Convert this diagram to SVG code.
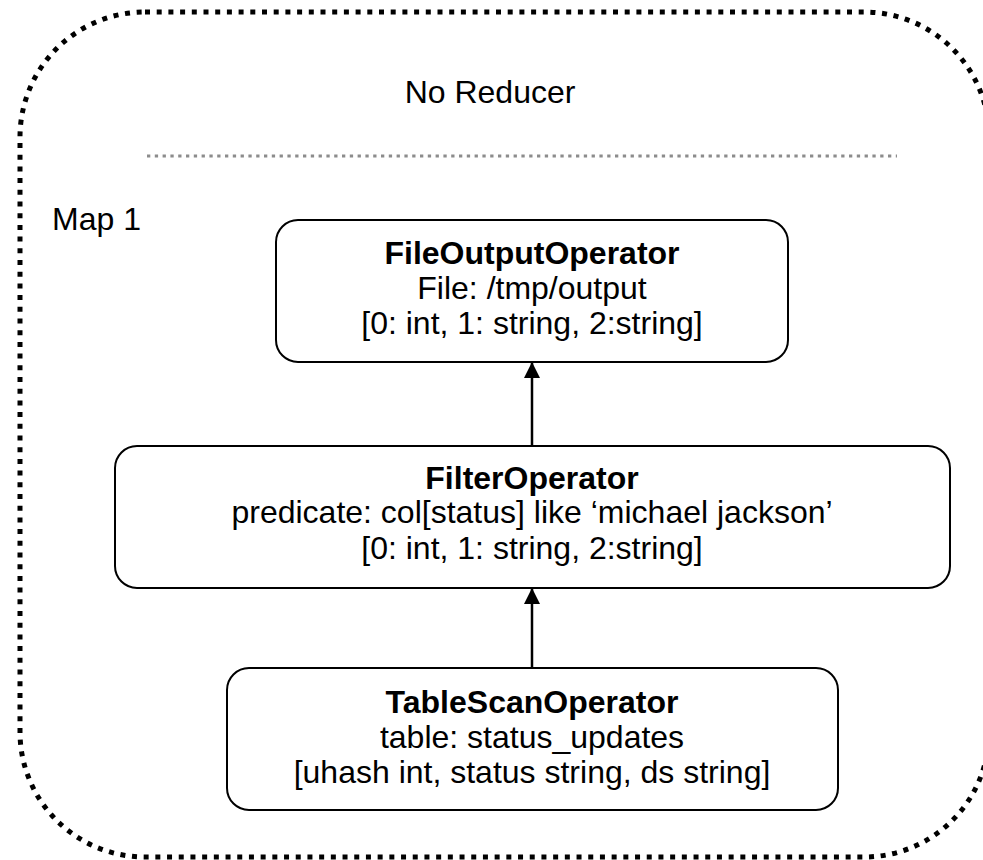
<svg xmlns="http://www.w3.org/2000/svg" width="983" height="860" viewBox="0 0 983 860">
  <defs>
    <style>
      .txt { font-family: "Liberation Sans", Arial, sans-serif; font-size: 32px; fill: #000; }
      .ctr { text-anchor: middle; }
      .b { font-weight: bold; }
      .op { fill: #fff; stroke: #000; stroke-width: 2; }
      .edge { stroke: #000; stroke-width: 2.5; fill: none; marker-end: url(#arrow); }
    </style>
    <marker id="arrow" markerUnits="userSpaceOnUse" markerWidth="16" markerHeight="16" viewBox="0 0 16 16" refX="15" refY="8" orient="auto">
      <path d="M0,0 L16,8 L0,16 Z" fill="#000"/>
    </marker>
  </defs>
  <rect width="983" height="860" fill="#fff"/>

  <!-- stage frame -->
  <g id="stage">
    <rect x="20" y="12" width="969" height="845" rx="125" ry="125" fill="none" stroke="#000" stroke-width="5" stroke-dasharray="5 6.7"/>
    <text class="txt ctr" x="490" y="103">No Reducer</text>
    <line x1="147" y1="156" x2="897" y2="156" stroke="#8c8c8c" stroke-width="3" stroke-dasharray="3.3 4.5"/>
    <text class="txt" x="52" y="230">Map 1</text>
  </g>

  <g id="file-output">
    <rect class="op" x="276" y="220" width="512" height="142" rx="22"/>
    <text class="txt ctr b" x="532" y="264">FileOutputOperator</text>
    <text class="txt ctr" x="532" y="299">File: /tmp/output</text>
    <text class="txt ctr" x="532" y="334">[0: int, 1: string, 2:string]</text>
  </g>

  <g id="filter">
    <rect class="op" x="115" y="446" width="835" height="142" rx="22"/>
    <text class="txt ctr b" x="532" y="489">FilterOperator</text>
    <text class="txt ctr" x="532" y="523">predicate: col[status] like ‘michael jackson’</text>
    <text class="txt ctr" x="532" y="559">[0: int, 1: string, 2:string]</text>
  </g>

  <g id="table-scan">
    <rect class="op" x="227" y="668" width="611" height="142" rx="22"/>
    <text class="txt ctr b" x="532" y="713">TableScanOperator</text>
    <text class="txt ctr" x="532" y="748">table: status_updates</text>
    <text class="txt ctr" x="532" y="783">[uhash int, status string, ds string]</text>
  </g>

  <g id="connectors">
    <line class="edge" x1="532" y1="446" x2="532" y2="363"/>
    <line class="edge" x1="532" y1="668" x2="532" y2="589"/>
  </g>
</svg>
